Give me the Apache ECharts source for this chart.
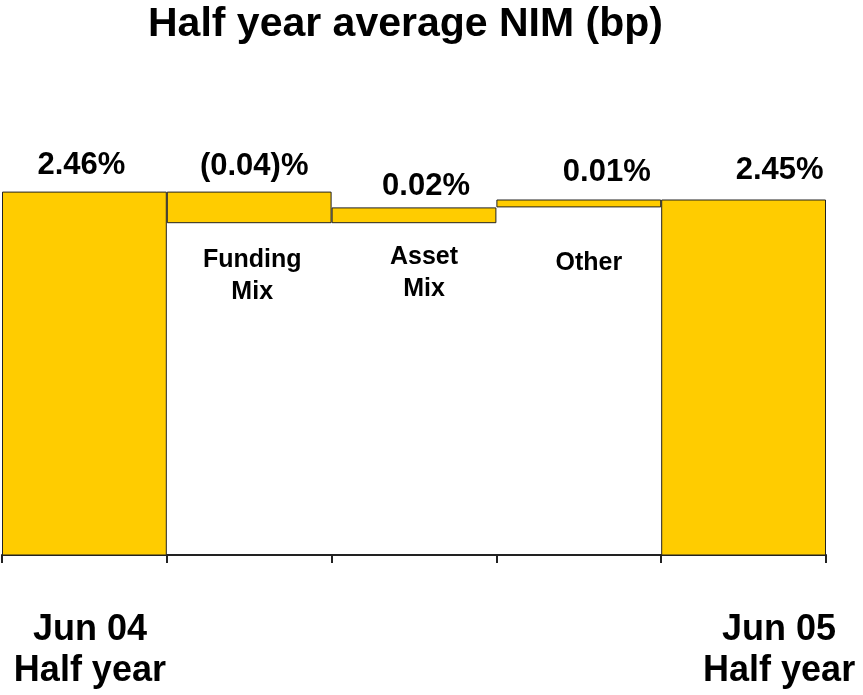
<!DOCTYPE html>
<html>
<head>
<meta charset="utf-8">
<title>Half year average NIM (bp)</title>
<script src="https://cdn.jsdelivr.net/npm/echarts@6.0.0/dist/echarts.min.js"></script>
<style>
  html, body { margin: 0; padding: 0; background: #fff; }
  #main { width: 863px; height: 695px; }
</style>
</head>
<body>
<div id="main"></div>
<script>
// categories (first and last are totals, middle ones are movements)
const categories = ['Jun 04\nHalf year', 'Funding\nMix', 'Asset\nMix', 'Other', 'Jun 05\nHalf year'];
// NIM in %
const nimValues = [2.46, -0.04, 0.02, 0.01, 2.45];
const isTotal = [true, false, false, false, true];

const FONT = '"Liberation Sans", Arial, sans-serif';
const BAR_COLOR = '#FFCC00';
const LINE_COLOR = '#222222';

// label nudges [dx, dy] - labels in the original are not quite centred
const valueLabelOffsets = [[-3, 0], [5, 1], [12, 6], [28, -1], [36, -3]];
const nameLabelOffsets = [[0, 0], [3, 16], [10, 13], [10, 35], [0, 0]];

// waterfall: invisible base + visible piece, stacked
let baseData = [];
let barData = [];
let level = 0;
nimValues.forEach((v, i) => {
  if (isTotal[i]) {
    baseData.push(0);
    barData.push(v);
    level = v;
  } else {
    let next = +(level + v).toFixed(4);
    baseData.push(Math.min(level, next));
    barData.push(Math.abs(v));
    level = next;
  }
});

function fmtPct(v) {
  return v < 0 ? '(' + Math.abs(v).toFixed(2) + ')%' : v.toFixed(2) + '%';
}

const chart = echarts.init(document.getElementById('main'));

const option = {
  animation: false,
  title: {
    text: 'Half year average NIM (bp)',
    left: 148,
    top: 4,
    padding: 0,
    textStyle: {
      fontFamily: FONT,
      fontSize: 41,
      fontWeight: 'bold',
      color: '#000',
    },
  },
  grid: {
    left: 2,
    right: 37,
    top: 81,
    bottom: 140,
    containLabel: false,
    outerBoundsMode: 'none',
  },
  xAxis: {
    type: 'category',
    data: categories,
    boundaryGap: true,
    axisLine: {
      lineStyle: { color: LINE_COLOR, width: 2 },
    },
    axisTick: {
      show: true,
      interval: 0,
      length: 8,
      lineStyle: { color: LINE_COLOR, width: 2 },
    },
    axisLabel: {
      interval: 0,
      margin: 55,
      formatter: (val, idx) => {
        if (!isTotal[idx]) return '';
        let key = idx === 0 ? 'l' : 'r';
        return val.split('\n').map((s) => '{' + key + '|' + s + '}').join('\n');
      },
      rich: {
        l: {
          fontFamily: FONT, fontSize: 36, fontWeight: 'bold', color: '#000',
          lineHeight: 41, align: 'center', padding: [0, 0, 0, 11],
        },
        r: {
          fontFamily: FONT, fontSize: 36, fontWeight: 'bold', color: '#000',
          lineHeight: 41, align: 'center', padding: [0, 0, 0, 71],
        },
      },
    },
    splitLine: { show: false },
  },
  yAxis: {
    type: 'value',
    min: 2,
    max: 2.6,
    show: false,
    splitLine: { show: false },
  },
  series: [
    {
      name: 'base',
      type: 'bar',
      stack: 'wf',
      barCategoryGap: '0%',
      silent: true,
      itemStyle: { color: 'transparent', borderWidth: 0 },
      emphasis: { disabled: true },
      label: {
        show: true,
        position: 'insideTop',
        fontFamily: FONT,
        fontSize: 25,
        fontWeight: 'bold',
        lineHeight: 32,
        color: '#000',
        formatter: (p) => (isTotal[p.dataIndex] ? '' : categories[p.dataIndex]),
      },
      data: baseData.map((v, i) => ({
        value: v,
        label: { offset: nameLabelOffsets[i] },
      })),
    },
    {
      name: 'NIM',
      type: 'bar',
      stack: 'wf',
      barCategoryGap: '0%',
      silent: true,
      itemStyle: {
        color: BAR_COLOR,
        borderColor: LINE_COLOR,
        borderWidth: 1,
      },
      emphasis: { disabled: true },
      label: {
        show: true,
        position: 'top',
        distance: 11,
        fontFamily: FONT,
        fontSize: 31,
        fontWeight: 'bold',
        lineHeight: 31,
        color: '#000',
        formatter: (p) => fmtPct(nimValues[p.dataIndex]),
      },
      data: barData.map((v, i) => ({
        value: v,
        label: { offset: valueLabelOffsets[i] },
      })),
    },
  ],
};

chart.setOption(option);
</script>
</body>
</html>
